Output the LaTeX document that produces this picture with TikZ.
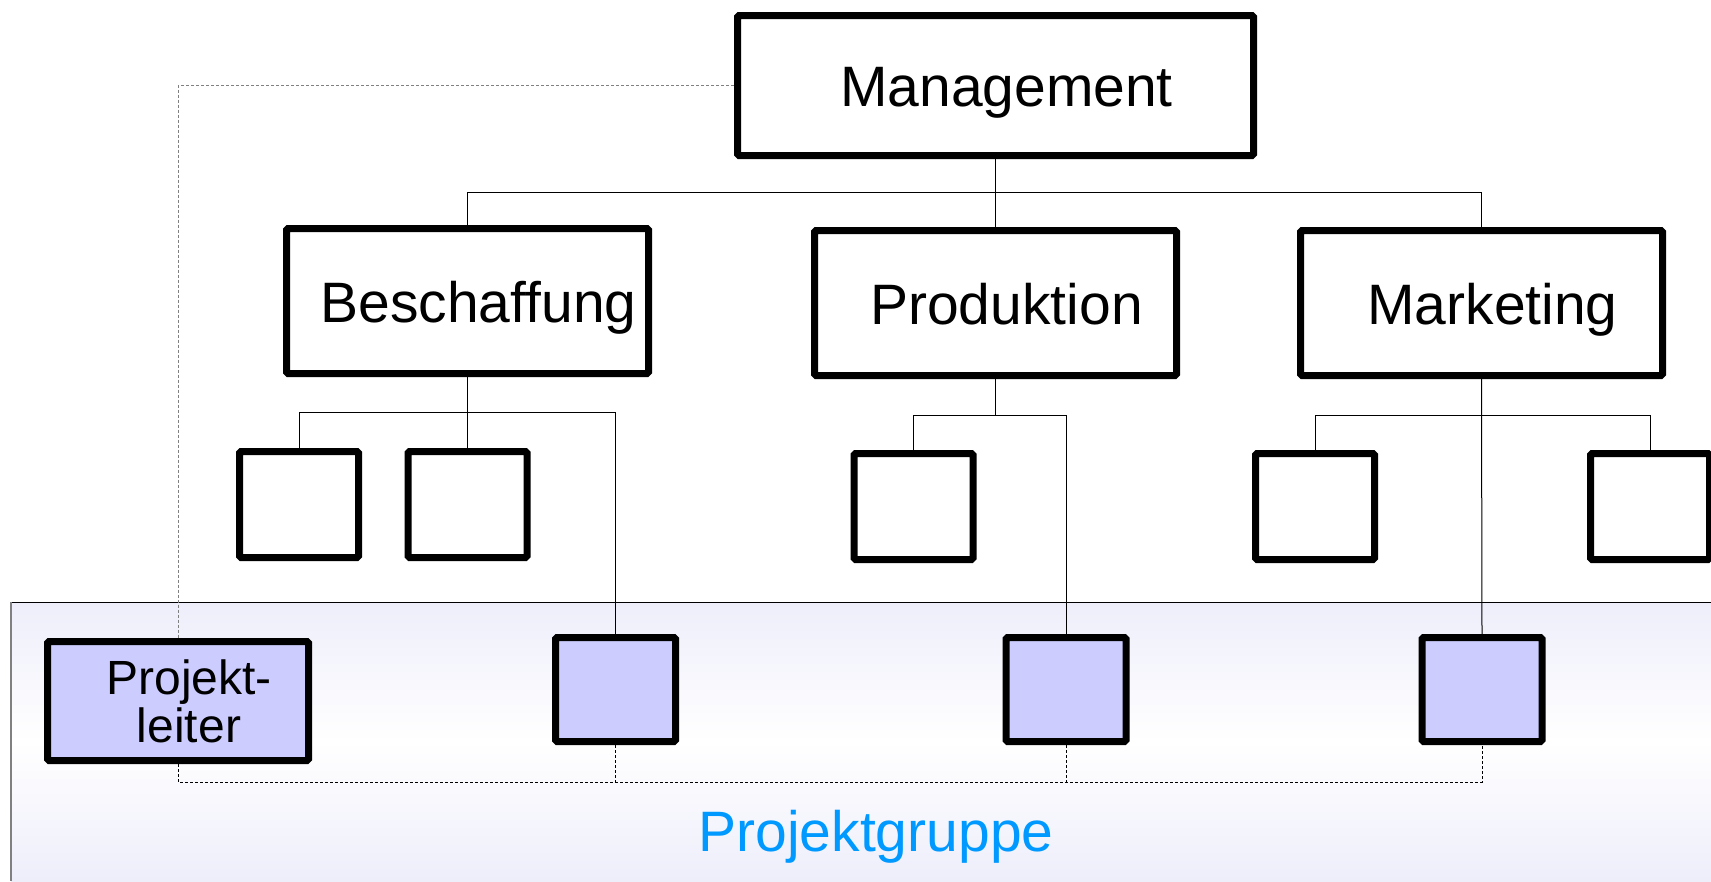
\documentclass[tikz,border=0pt]{standalone}
\usepackage{fontspec}
\setmainfont{Liberation Sans}
\usepackage{tikz}
\usetikzlibrary{backgrounds}

\definecolor{memberfill}{RGB}{204,204,255}
\definecolor{grouptint}{RGB}{238,238,251}
\definecolor{groupblue}{RGB}{0,153,255}

\begin{document}
\begin{tikzpicture}[x=1pt,y=-1pt,
    unit/.style={draw,fill=white,line width=7pt,rounded corners=1.5pt,inner sep=0pt,
      font=\fontsize{57}{60}\selectfont,text height=42pt,text depth=0pt,
      execute at begin node={\hspace*{22pt}}},
    dept/.style={unit,minimum width=362pt,minimum height=145pt},
    sub/.style={unit,minimum width=119pt,minimum height=106pt},
    member/.style={sub,fill=memberfill,minimum width=120pt,minimum height=104pt},
    lead/.style={draw,fill=memberfill,line width=7pt,rounded corners=1.5pt,inner sep=0pt,
      minimum width=261pt,minimum height=119pt,align=center,
      font=\fontsize{48}{48}\selectfont},
    link/.style={line width=1pt},
    staff/.style={line width=1pt,dash pattern=on 3pt off 2pt}]

  \useasboundingbox (0,0) rectangle (1711,881);

  % line organisation
  \node[unit,minimum width=516pt,minimum height=140pt] (mgmt) at (995.5,85.5) {Management};
  \node[dept] (besch) at (467.5,301) {Beschaffung};
  \node[dept] (prod) at (995.5,303) {Produktion};
  \node[dept] (mktg) at (1481.5,303) {Marketing};

  \node[sub] (sub1) at (299,504.5) {};
  \node[sub] (sub2) at (467.5,504.5) {};
  \node[sub] (sub3) at (913.5,506.5) {};
  \node[sub] (sub4) at (1315,506.5) {};
  \node[sub] (sub5) at (1650,506.5) {};

  % project group
  \node[lead] (lead) at (178,701) {\hspace*{22pt}Projekt-\\\hspace*{22pt}leiter};
  \node[member] (pm1) at (615.5,689.5) {};
  \node[member] (pm2) at (1066,689.5) {};
  \node[member] (pm3) at (1482,689.5) {};

  \node[font=\fontsize{57}{60}\selectfont,text=groupblue,text height=42pt,text depth=0pt]
    (grouplabel) at (876,830) {Projektgruppe};

  \coordinate (bus) at (0,782);

  \begin{scope}[on background layer]
    \shade[top color=grouptint,bottom color=grouptint,middle color=white] (11,602) rectangle (1711,881);
    \draw[line width=1pt] (11,602) -- (1711,602);
    \draw[gray,line width=2pt] (11,602) -- (11,881);

    \draw[link] (mgmt.south) -- (prod.north);
    \draw[link] (besch.north) |- (mktg.north |- 0,192) -- (mktg.north);

    \draw[link] (besch.south) -- (sub2.north);
    \draw[link] (sub1.north) |- (pm1.north |- 0,412) -- (pm1.north);
    \draw[link] (prod.south) -- (prod.south |- 0,415);
    \draw[link] (sub3.north) |- (pm2.north |- 0,415) -- (pm2.north);
    \draw[link] (mktg.south) -- (pm3.north);
    \draw[link] (sub4.north) |- (sub5.north |- 0,415) -- (sub5.north);

    \draw[staff,gray] (mgmt.west) -| (lead.north);
    \draw[staff] (lead.south) |- (bus -| pm3.south) -- (pm3.south);
    \draw[staff] (pm1.south) -- (pm1.south |- bus);
    \draw[staff] (pm2.south) -- (pm2.south |- bus);
  \end{scope}
\end{tikzpicture}
\end{document}
